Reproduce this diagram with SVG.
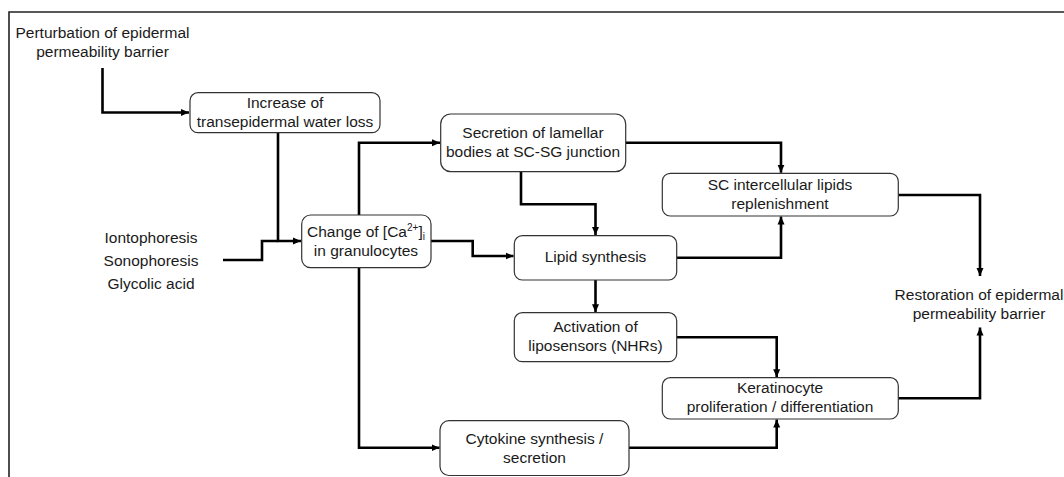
<svg xmlns="http://www.w3.org/2000/svg" width="1064" height="477" viewBox="0 0 1064 477">
<defs>
<style>
text{font-family:"Liberation Sans",Arial,sans-serif;font-size:15.5px;fill:#1a1a1a;text-anchor:middle}
.box{fill:#fff;stroke:#333;stroke-width:1.2}
.c{fill:none;stroke:#000;stroke-width:2.6;stroke-linejoin:miter}
.a{marker-end:url(#ah)}
.frame{fill:none;stroke:#222;stroke-width:1.6}
</style>
<marker id="ah" markerUnits="userSpaceOnUse" markerWidth="9" markerHeight="9" refX="8" refY="4" orient="auto">
<path d="M0,0.5 L8,4 L0,7.5 z" fill="#000"/>
</marker>
</defs>
<rect width="1064" height="477" fill="#fff"/>
<path class="frame" d="M9,477 V12 H1064"/>

<g id="connectors">
<path class="c a" d="M102.5,68 V112.5 H189"/>
<path class="c a" d="M278,133 V241 H301"/>
<path class="c" d="M223,260 H262 V241 H278"/>
<path class="c a" d="M359,215 V142.7 H440"/>
<path class="c a" d="M359,268 V447.7 H439.5"/>
<path class="c a" d="M431,241 H472.7 V256 H513.5"/>
<path class="c a" d="M521,172 V204.3 H595.5 V235"/>
<path class="c a" d="M625.7,142.7 H781 V172.7"/>
<path class="c a" d="M676.7,257.7 H781 V216.5"/>
<path class="c a" d="M595.5,280 V312.2"/>
<path class="c a" d="M676.7,337.3 H776.7 V377.2"/>
<path class="c a" d="M629,447.7 H776.7 V419.5"/>
<path class="c a" d="M898.3,195 H980 V276"/>
<path class="c a" d="M898.3,398.3 H980 V327.5"/>
</g>

<g id="perturbation">
<text x="102.5" y="38">Perturbation of epidermal</text>
<text x="102.5" y="57">permeability barrier</text>
</g>

<g id="treatments">
<text x="151" y="242.5">Iontophoresis</text>
<text x="151" y="265.5">Sonophoresis</text>
<text x="151" y="288.5">Glycolic acid</text>
</g>

<g id="increase">
<rect class="box" x="190" y="92.7" width="190" height="40" rx="8"/>
<text x="285" y="108.3">Increase of</text>
<text x="285" y="126.5">transepidermal water loss</text>
</g>

<g id="change">
<rect class="box" x="301.7" y="215" width="129.3" height="52.7" rx="9"/>
<text x="366" y="237">Change of [Ca<tspan font-size="10px" dy="-6">2+</tspan><tspan dy="6">]</tspan><tspan font-size="10px" dy="3">i</tspan></text>
<text x="366" y="255.5">in granulocytes</text>
</g>

<g id="secretion">
<rect class="box" x="440.7" y="114" width="185" height="57.7" rx="10"/>
<text x="533" y="137.7">Secretion of lamellar</text>
<text x="533" y="156.7">bodies at SC-SG junction</text>
</g>

<g id="lipid">
<rect class="box" x="514.3" y="235.7" width="162.4" height="44.3" rx="8"/>
<text x="595.5" y="262.3">Lipid synthesis</text>
</g>

<g id="sc">
<rect class="box" x="662.3" y="173.3" width="236" height="42.7" rx="8"/>
<text x="780" y="190">SC intercellular lipids</text>
<text x="780" y="208.5">replenishment</text>
</g>

<g id="activation">
<rect class="box" x="514.3" y="312.7" width="162.4" height="49" rx="8"/>
<text x="595.5" y="332.3">Activation of</text>
<text x="595.5" y="351">liposensors (NHRs)</text>
</g>

<g id="keratinocyte">
<rect class="box" x="662.3" y="377.7" width="236" height="41.3" rx="8"/>
<text x="780" y="393.3">Keratinocyte</text>
<text x="780" y="412.3">proliferation / differentiation</text>
</g>

<g id="cytokine">
<rect class="box" x="440" y="420.7" width="189" height="54.8" rx="9"/>
<text x="534.5" y="444.3">Cytokine synthesis /</text>
<text x="534.5" y="463.3">secretion</text>
</g>

<g id="restoration">
<text x="979" y="300">Restoration of epidermal</text>
<text x="979" y="318.5">permeability barrier</text>
</g>
</svg>
